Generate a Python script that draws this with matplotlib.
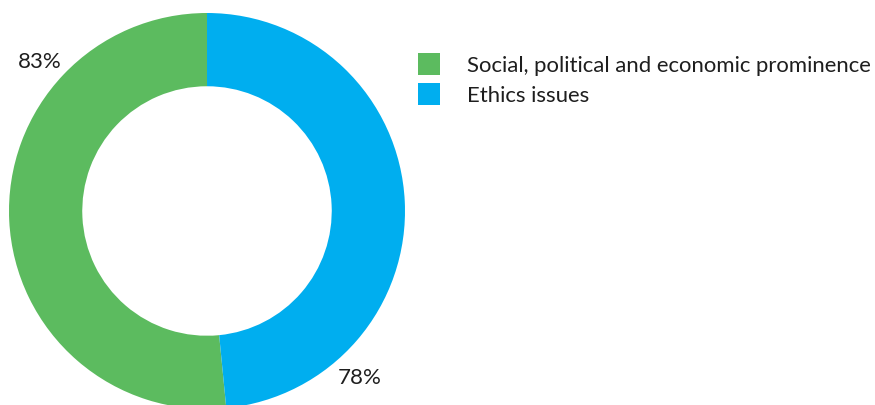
import matplotlib
matplotlib.use("Agg")
import matplotlib.pyplot as plt
from matplotlib.patches import Rectangle

categories = ["Social, political and economic prominence", "Ethics issues"]
values = [83, 78]
colors = ["#5cbb5f", "#00aeef"]

W, H = 875, 405
fig = plt.figure(figsize=(W / 100, H / 100), dpi=100)
font = "Lato"
text_color = "#1e1e1e"

# donut axes placed in pixel units (center ~ (207, 211), outer radius ~198 px)
cx, cy, r = 207, 211, 198
ax = fig.add_axes([(cx - r) / W, (H - cy - r) / H, 2 * r / W, 2 * r / H])
ax.pie(values, colors=colors, startangle=90, counterclock=True,
       radius=1.0, wedgeprops=dict(width=0.37, linewidth=0))
ax.set_xlim(-1, 1)
ax.set_ylim(-1, 1)
ax.axis("off")

label_pos = [(-0.843, 0.753), (0.773, -0.843)]
for v, (x, y) in zip(values, label_pos):
    ax.text(x, y, f"{v}%", ha="center", va="center", fontsize=16,
            color=text_color, family=font, clip_on=False)

# legend drawn in figure pixel coordinates
renderer = fig.canvas.get_renderer()
probe = fig.text(0, 0, categories[0], fontsize=15, family=font)
w = probe.get_window_extent(renderer).width
probe.remove()
legend_size = 15 * 405 / w

box_x, box = 418, 22
rows_y = [53, 83]
for cat, col, y in zip(categories, colors, rows_y):
    fig.patches.append(Rectangle((box_x / W, 1 - (y + box) / H), box / W, box / H,
                                 transform=fig.transFigure, facecolor=col,
                                 edgecolor="none"))
    fig.text(467 / W, 1 - (y + box / 2) / H, cat, ha="left", va="center_baseline",
             fontsize=legend_size, family=font, color=text_color)

fig.savefig("out.png", dpi=100)
